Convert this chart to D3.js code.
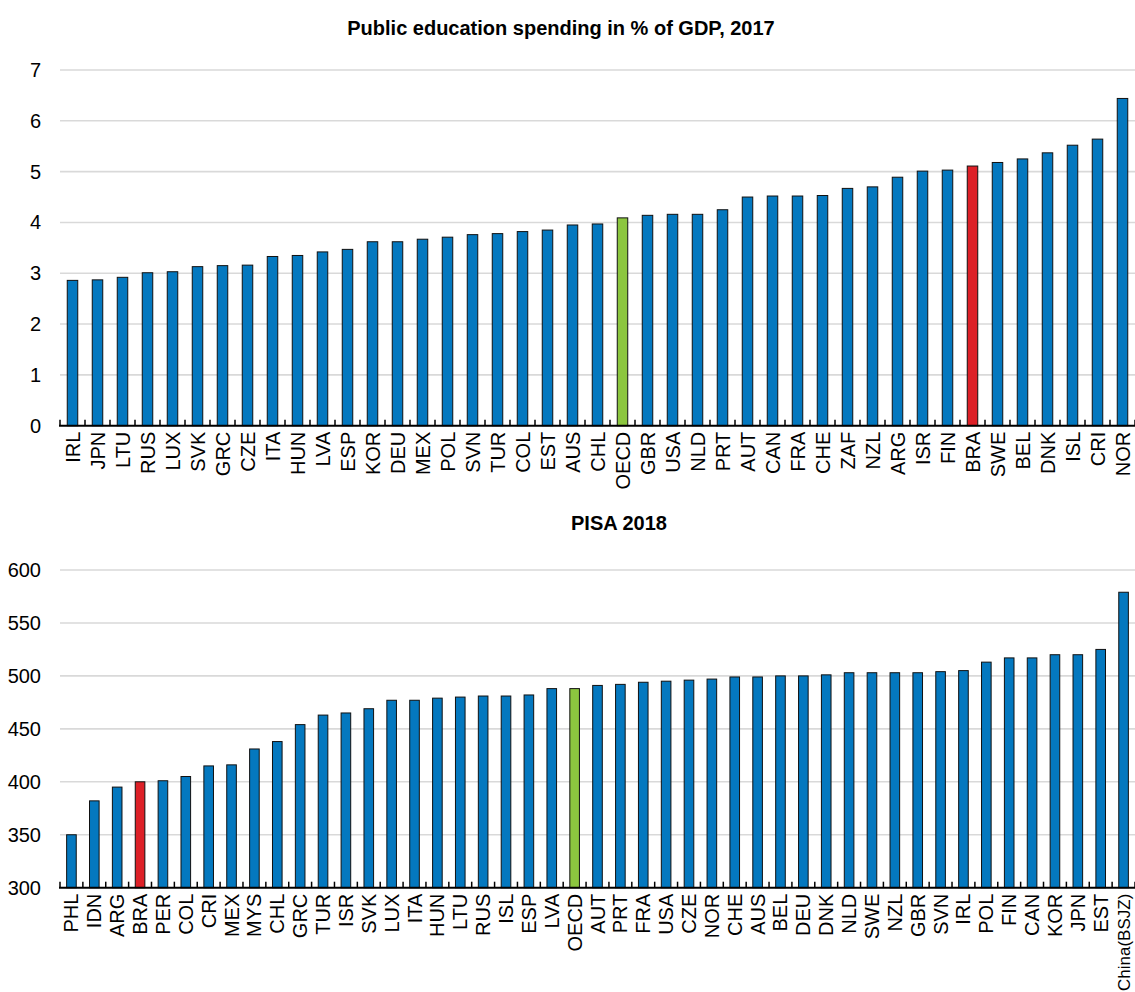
<!DOCTYPE html>
<html>
<head>
<meta charset="utf-8">
<script src="https://cdn.jsdelivr.net/npm/d3@7"></script>
<style>
  body { margin: 0; background: #fff; }
  svg { display: block; font-family: "Liberation Sans Narrow", "Arial Narrow", "Liberation Sans", sans-serif; }
</style>
</head>
<body>
<div id="chart"></div>
<script>
// Panel 1: public education spending, % of GDP, 2017
var spendCountries = ["IRL","JPN","LTU","RUS","LUX","SVK","GRC","CZE","ITA","HUN","LVA","ESP","KOR","DEU","MEX","POL","SVN","TUR","COL","EST","AUS","CHL","OECD","GBR","USA","NLD","PRT","AUT","CAN","FRA","CHE","ZAF","NZL","ARG","ISR","FIN","BRA","SWE","BEL","DNK","ISL","CRI","NOR"];
var spendValues = [2.86,2.87,2.92,3.01,3.03,3.13,3.15,3.16,3.33,3.35,3.42,3.47,3.62,3.62,3.67,3.71,3.76,3.78,3.82,3.85,3.95,3.97,4.09,4.14,4.16,4.16,4.25,4.50,4.52,4.52,4.53,4.67,4.70,4.89,5.01,5.03,5.11,5.18,5.25,5.37,5.52,5.64,6.44];
var spendTicks = [0,1,2,3,4,5,6,7];

// Panel 2: PISA 2018 mean score
var pisaCountries = ["PHL","IDN","ARG","BRA","PER","COL","CRI","MEX","MYS","CHL","GRC","TUR","ISR","SVK","LUX","ITA","HUN","LTU","RUS","ISL","ESP","LVA","OECD","AUT","PRT","FRA","USA","CZE","NOR","CHE","AUS","BEL","DEU","DNK","NLD","SWE","NZL","GBR","SVN","IRL","POL","FIN","CAN","KOR","JPN","EST","China(BSJZ)"];
var pisaValues = [350,382,395,400,401,405,415,416,431,438,454,463,465,469,477,477,479,480,481,481,482,488,488,491,492,494,495,496,497,499,499,500,500,501,503,503,503,503,504,505,513,517,517,520,520,525,579];
var pisaTicks = [300,350,400,450,500,550,600];

var blue = "#0478bf", red = "#dd2027", green = "#8cc63f";

var width = 1135, height = 992;
var svg = d3.select("#chart").append("svg")
    .attr("width", width)
    .attr("height", height);

function colorFor(c) {
    if (c == "BRA") return red;
    if (c == "OECD") return green;
    return blue;
}

function panel(opts) {
    var x = d3.scaleBand().domain(opts.cats).range([60, 1135]);
    var y = d3.scaleLinear().domain(opts.domain).range([opts.bottom, opts.top]);
    var g = svg.append("g");

    // title
    g.append("text")
        .attr("x", opts.titleX)
        .attr("y", opts.titleY)
        .attr("text-anchor", "middle")
        .style("font-weight", "bold")
        .style("font-size", "20px")
        .text(opts.title);

    // gridlines
    g.selectAll(".grid")
        .data(opts.ticks.slice(1))
        .enter().append("line")
        .attr("x1", 60).attr("x2", 1135)
        .attr("y1", function (d) { return y(d); })
        .attr("y2", function (d) { return y(d); })
        .attr("stroke", "#d9d9d9")
        .attr("stroke-width", 1.6);

    // y tick labels
    g.selectAll(".ylab")
        .data(opts.ticks)
        .enter().append("text")
        .attr("x", 41)
        .attr("y", function (d) { return y(d); })
        .attr("dy", "0.35em")
        .attr("text-anchor", "end")
        .style("font-size", "20px")
        .text(function (d) { return d; });

    // bars
    var bw = x.bandwidth() * 0.42;
    g.selectAll(".bar")
        .data(opts.cats)
        .enter().append("rect")
        .attr("x", function (d) { return x(d) + (x.bandwidth() - bw) / 2; })
        .attr("width", bw)
        .attr("y", function (d, i) { return y(opts.values[i]); })
        .attr("height", function (d, i) { return y(opts.domain[0]) - y(opts.values[i]); })
        .attr("fill", function (d) { return colorFor(d); })
        .attr("stroke", "#111")
        .attr("stroke-width", 1);

    // x axis: line, ticks between bars pointing up, rotated labels
    var edges = opts.cats.map(function (c) { return x(c); }).concat([x.range()[1]]);
    g.selectAll(".xtick")
        .data(edges)
        .enter().append("line")
        .attr("x1", function (d) { return d; })
        .attr("x2", function (d) { return d; })
        .attr("y1", y(opts.domain[0]))
        .attr("y2", y(opts.domain[0]) - 6)
        .attr("stroke", "#000")
        .attr("stroke-width", 1.5);

    g.append("line")
        .attr("x1", 59).attr("x2", 1135)
        .attr("y1", y(opts.domain[0])).attr("y2", y(opts.domain[0]))
        .attr("stroke", "#000")
        .attr("stroke-width", 2);

    var axis = g.append("g")
        .attr("transform", "translate(0," + y(opts.domain[0]) + ")")
        .call(d3.axisBottom(x).tickSize(0));
    axis.select(".domain").remove();
    var room = height - y(opts.domain[0]) - 7;
    axis.selectAll("text")
        .attr("x", -6)
        .attr("y", 0)
        .attr("dy", "0.35em")
        .attr("transform", "rotate(-90)")
        .style("text-anchor", "end")
        .style("font-size", "20px")
        .style("font-family", "inherit")
        .attr("fill", "#000")
        .each(function () {
            // shrink a label that would run off the bottom of the page
            var len = this.getComputedTextLength();
            if (len > room) d3.select(this).style("font-size", (20 * room / len) + "px");
        });
}

panel({
    cats: spendCountries, values: spendValues, ticks: spendTicks,
    domain: [0, 7], top: 70, bottom: 425.7,
    title: "Public education spending in % of GDP, 2017", titleX: 561, titleY: 35
});

panel({
    cats: pisaCountries, values: pisaValues, ticks: pisaTicks,
    domain: [300, 600], top: 570, bottom: 887.7,
    title: "PISA 2018", titleX: 619, titleY: 530
});
</script>
</body>
</html>
